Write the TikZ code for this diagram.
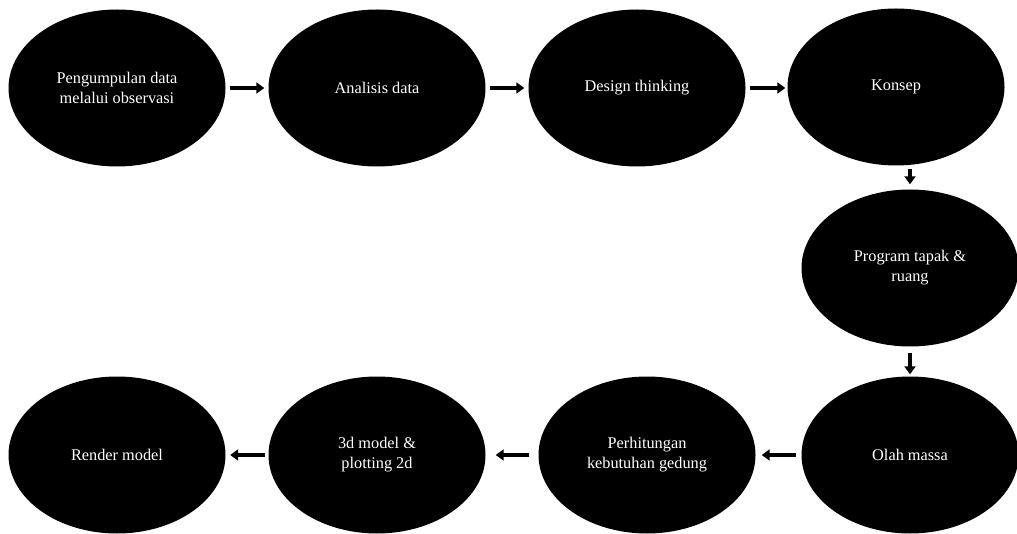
\documentclass[tikz,border=0pt]{standalone}
\usepackage{fontspec}
\setmainfont{Liberation Serif}
\usetikzlibrary{shapes.geometric,arrows.meta}
\begin{document}
\begin{tikzpicture}[x=1pt,y=-1pt,
  stage/.style={ellipse,fill=black,draw=none,minimum width=217pt,minimum height=157pt,inner sep=0pt,
    text=white,align=center,font=\fontsize{16.3}{20}\selectfont},
  arr/.style={line width=4.5pt,-{Triangle[length=8pt,width=11pt]},shorten <=4pt,shorten >=4pt}]
\useasboundingbox (0,0) rectangle (1017,534);
\node[stage] (e1) at (117,88) {Pengumpulan data\\melalui observasi};
\node[stage] (e2) at (377,88) {Analisis data};
\node[stage] (e3) at (637,88) {Design thinking};
\node[stage] (e4) at (896,87) {Konsep};
\node[stage] (e5) at (910,268) {Program tapak \&\\ruang};
\node[stage] (e6) at (910,455) {Olah massa};
\node[stage] (e7) at (647,455) {Perhitungan\\kebutuhan gedung};
\node[stage] (e8) at (377,455) {3d model \&\\plotting 2d};
\node[stage] (e9) at (117,455) {Render model};
\draw[arr] (e1) -- (e2);
\draw[arr] (e2) -- (e3);
\draw[arr,shorten >=2pt] (e3) -- (e4.west |- e3);
\draw[arr,shorten <=3pt,shorten >=5pt] (e4.south -| e5.north) -- (e5.north);
\draw[arr,shorten <=6pt,shorten >=2pt] (e5) -- (e6);
\draw[arr,shorten <=5pt,shorten >=6pt] (e6) -- (e7);
\draw[arr,shorten <=9pt,shorten >=10pt] (e7) -- (e8);
\draw[arr,shorten <=3.5pt,shorten >=4.5pt] (e8) -- (e9);
\end{tikzpicture}
\end{document}
